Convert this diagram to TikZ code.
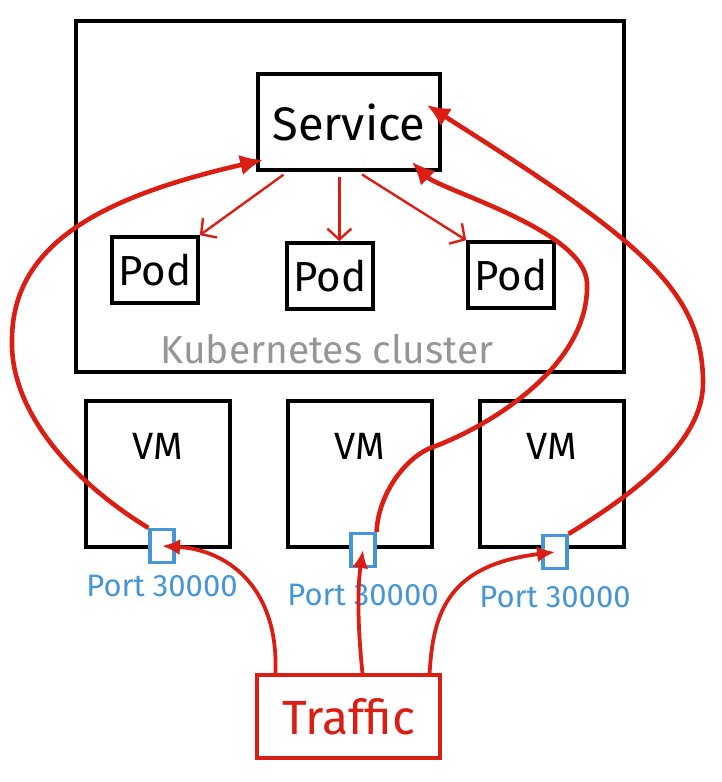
\documentclass[tikz,border=0pt]{standalone}
\usepackage{fontspec}
\setmainfont{Fira Sans}
\usepackage{tikz}
\usetikzlibrary{arrows.meta,positioning}
\definecolor{sketchred}{RGB}{218,30,20}
\definecolor{portblue}{RGB}{70,150,215}
\definecolor{labelgray}{RGB}{150,150,150}

\begin{document}
\begin{tikzpicture}[x=1pt,y=-1pt,
        box/.style={draw=black,line width=3.6pt,inner sep=0pt},
        podbox/.style={box,minimum width=86pt,minimum height=66pt,font=\fontsize{42}{42}\selectfont},
        vmbox/.style={box,minimum width=144pt,minimum height=146pt},
        vmtext/.style={inner sep=0pt,font=\fontsize{38}{38}\selectfont},
        portbox/.style={draw=portblue,fill=white,line width=3.2pt,minimum width=24pt,minimum height=33pt,inner sep=0pt},
        porttext/.style={inner sep=0pt,text=portblue,font=\fontsize{31}{31}\selectfont},
        thinarrow/.style={draw=sketchred,line width=2.4pt,shorten <=5pt,-{Straight Barb[length=11pt,width=24pt]}},
        bigarrow/.style={draw=sketchred,line width=4.6pt,-{Latex[length=23pt,width=21pt]}},
        smallarrow/.style={draw=sketchred,line width=3.8pt,-{Latex[length=18pt,width=16pt]}}]
        \useasboundingbox (0,0) rectangle (722,782);

        \node[box,minimum width=548pt,minimum height=351pt] (cluster) at (350,196.5) {};
        \node[inner sep=0pt,anchor=base,text=labelgray,font=\fontsize{39}{39}\selectfont] (k8s) at (327,363) {Kubernetes cluster};
        \node[box,minimum width=182pt,minimum height=96pt,font=\fontsize{47}{47}\selectfont] (service) at (349,122) {Service};

        \foreach \i/\x/\y in {1/155/270,2/330/276,3/511/275}
        \node[podbox] (pod\i) at (\x,\y) {Pod};

        \draw[thinarrow] (service.219) -- (pod1.north east);
        \draw[thinarrow] (service.259) -- (service.259 |- pod2.north);
        \draw[thinarrow] (service.280) -- (pod3.north west);

        \foreach \i/\x in {1/158,2/360,3/552}
        \node[vmbox] (vm\i) at (\x,474) {};
        \foreach \i in {1,2,3}
        \node[vmtext,below=34pt of vm\i.north] (vmtxt\i) {VM};

        \foreach \i/\x/\y in {1/162/546,2/363/550,3/555/552}
        \node[portbox] (port\i) at (\x,\y) {};
        \node[porttext,below=11pt of port1] (ptxt1) {Port 30000};
        \node[porttext,below=16pt of port2] (ptxt2) {Port 30000};
        \node[porttext,below=16pt of port3] (ptxt3) {Port 30000};

        \node[draw=sketchred,line width=3.2pt,minimum width=183pt,minimum height=83pt,inner sep=0pt,
            text=sketchred,font=\fontsize{48}{48}\selectfont] (traffic) at (348.5,716.5) {Traffic};

        \draw[bigarrow] (port1.north west) .. controls (70,480) and (10,410) .. (12,340)
            .. controls (12,240) and (110,195) .. ([xshift=7pt,yshift=12pt]service.south west);
        \draw[bigarrow] (port2.north east) .. controls (378,495) and (405,457) .. (433,447)
            .. controls (480,430) and (590,370) .. (587,283)
            .. controls (585,230) and (440,190) .. ([xshift=-30pt,yshift=10pt]service.south east);
        \draw[bigarrow] (port3.north east) .. controls (640,490) and (703,440) .. (703,383)
            .. controls (703,290) and (640,240) .. ([xshift=-15pt,yshift=17pt]service.east);

        \draw[smallarrow] ([xshift=20pt]traffic.north west) .. controls (279,590) and (230,550) .. (port1.center);
        \draw[smallarrow] ([xshift=14pt]traffic.north) .. controls (358,630) and (357,590) .. (port2.center);
        \draw[smallarrow] ([xshift=-12pt]traffic.north east) .. controls (433,610) and (450,565) .. (port3.center);
        % \draw[smallarrow] (traffic.north) -- (port2.south);

\end{tikzpicture}
\end{document}
